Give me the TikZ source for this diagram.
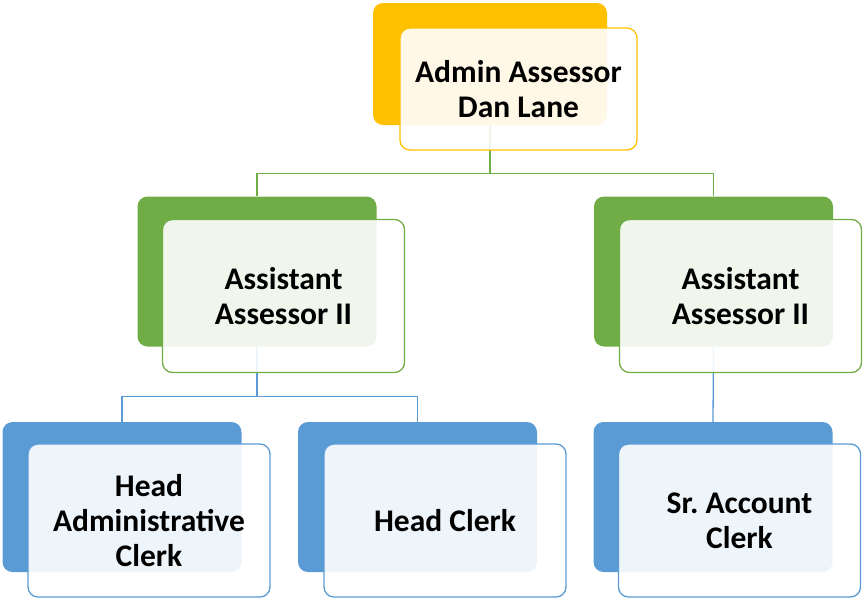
\documentclass[tikz,border=0pt]{standalone}
\usepackage{fontspec}
\setmainfont{Carlito}
\frenchspacing
\definecolor{cY}{HTML}{FFC000}
\definecolor{cG}{HTML}{70AD47}
\definecolor{cB}{HTML}{5B9BD5}
\begin{document}
\begin{tikzpicture}[x=1pt,y=-1pt,
  back/.style={rectangle, rounded corners=10pt, inner sep=0pt, draw=none, fill=#1},
  front/.style={rectangle, rounded corners=10pt, inner sep=0pt, draw=#1, line width=1.3pt,
    fill=white, fill opacity=0.9, text opacity=1, align=center,
    font=\fontsize{31.5}{35}\selectfont\bfseries},
  link/.style={draw=#1, line width=1.3pt},
  topsz/.style={minimum width=234pt, minimum height=122pt},
  topfz/.style={minimum width=237pt, minimum height=122pt},
  bsz/.style={minimum width=239pt, minimum height=150pt},
  fsz/.style={minimum width=242pt, minimum height=153pt}]
\useasboundingbox (0,0) rectangle (863,600);
% back boxes
\node[back=cY, topsz] (b0) at (490,64) {};
\node[back=cG, bsz] (b1) at (257,271.5) {};
\node[back=cG, bsz] (b2) at (713.5,271.5) {};
\node[back=cB, bsz] (b3) at (122,497) {};
\node[back=cB, bsz] (b4) at (417.5,497) {};
\node[back=cB, bsz] (b5) at (713,497) {};
% connectors
\draw[link=cG] (b0.south) -- ++(0,48) -| (b1.north);
\draw[link=cG] (b0.south) -- ++(0,48) -| (b2.north);
\draw[link=cB] (b1.south) -- ++(0,50) -| (b3.north);
\draw[link=cB] (b1.south) -- ++(0,50) -| (b4.north);
\draw[link=cB] (b2.south) -- (b5.north);
% front boxes
\node[front=cY, topfz] (f0) at (518.5,89) {Admin Assessor\\Dan Lane};
\node[front=cG, fsz] (f1) at (283.5,296) {Assistant\\Assessor II};
\node[front=cG, fsz] (f2) at (740.5,296) {Assistant\\Assessor II};
\node[front=cB, fsz] (f3) at (149,520.5) {Head\\Administrative\\Clerk};
\node[front=cB, fsz] (f4) at (445,520.5) {Head Clerk};
\node[front=cB, fsz] (f5) at (739.5,520.5) {Sr.\ Account\\Clerk};
\end{tikzpicture}
\end{document}
